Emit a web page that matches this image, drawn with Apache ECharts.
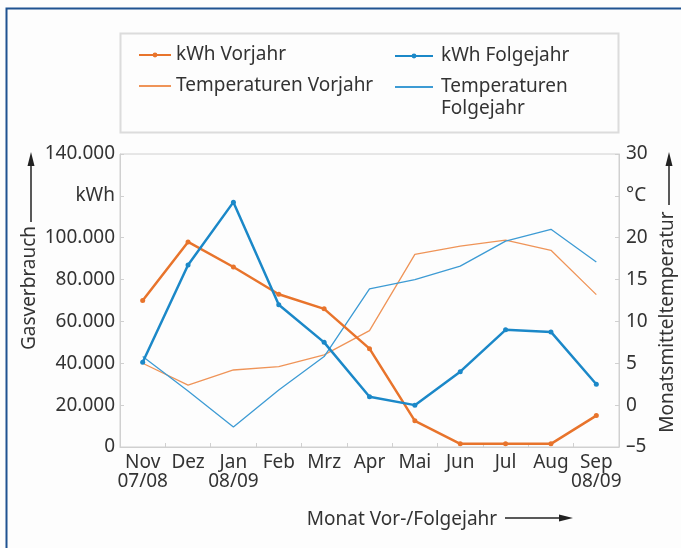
<!DOCTYPE html>
<html>
<head>
<meta charset="utf-8">
<script src="https://cdn.jsdelivr.net/npm/echarts@6/dist/echarts.min.js"></script>
<style>
  html, body { margin: 0; padding: 0; background: #fdfdfd; }
  #chart { width: 681px; height: 548px; }
</style>
</head>
<body>
<div id="chart"></div>
<script>
  // Monate (Vorjahr / Folgejahr)
  var months = ['Nov\n07/08', 'Dez', 'Jan\n08/09', 'Feb', 'Mrz', 'Apr', 'Mai', 'Jun', 'Jul', 'Aug', 'Sep\n08/09']
  // Gasverbrauch in kWh
  var kwhVorjahr = [70000, 98000, 86000, 73000, 66000, 47000, 12500, 1500, 1500, 1500, 15000]
  var kwhFolgejahr = [40500, 87000, 117000, 68000, 50000, 24000, 20000, 36000, 56000, 55000, 30000]
  // Monatsmitteltemperatur in °C
  var tempVorjahr = [5.0, 2.4, 4.2, 4.6, 6.0, 8.9, 18.0, 19.0, 19.7, 18.5, 13.2]
  var tempFolgejahr = [5.8, 1.7, -2.6, 1.8, 5.8, 13.9, 15.0, 16.6, 19.6, 21.0, 17.1]

  var orange = '#e8742c'
  var orangeLight = '#ef9458'
  var blue = '#1b88c8'
  var blueLight = '#3d9bd4'
  var font = 'Noto Sans'
  var fs = 19
  var textColor = '#333'

  var chart = echarts.init(document.getElementById('chart'))

  chart.setOption({
    backgroundColor: '#fdfdfd',
    textStyle: {fontFamily: font},
    grid: {
      left: 120, right: 62, top: 154, bottom: 101,
      show: true, borderColor: '#d0d0d0', borderWidth: 1
    },
    legend: [{
      left: 133, top: 40, orient: 'vertical', itemGap: 11,
      itemWidth: 32, itemHeight: 6,
      data: ['kWh Vorjahr', {name: 'Temperaturen Vorjahr', itemStyle: {opacity: 0}}],
      textStyle: {fontSize: fs, lineHeight: 20, color: textColor, fontFamily: font}
    }, {
      left: 389, top: 41, orient: 'vertical', itemGap: 11,
      itemWidth: 38, itemHeight: 6,
      data: ['kWh Folgejahr', {name: 'Temperaturen Folgejahr', itemStyle: {opacity: 0}}],
      formatter: function (name) {
        // zweite Zeile kommt als eigener Text darunter
        return name === 'Temperaturen Folgejahr' ? 'Temperaturen' : name
      },
      textStyle: {fontSize: fs, lineHeight: 20, color: textColor, fontFamily: font, padding: [0, 0, 0, 3]}
    }],
    xAxis: {
      type: 'category',
      data: months,
      boundaryGap: true,
      axisLine: {lineStyle: {color: '#d0d0d0'}},
      axisTick: {show: true, inside: true, length: 4, lineStyle: {color: '#d0d0d0'}},
      axisLabel: {color: textColor, fontSize: fs, margin: 6, lineHeight: 19, interval: 0}
    },
    yAxis: [{
      type: 'value',
      min: 0, max: 140000, interval: 20000,
      splitLine: {show: false},
      axisLine: {show: true, lineStyle: {color: '#d0d0d0'}},
      axisTick: {show: true, inside: true, length: 4, lineStyle: {color: '#d0d0d0'}},
      axisLabel: {
        color: textColor, fontSize: fs, margin: 5,
        formatter: function (v) {
          if (v === 120000) return 'kWh'
          if (v === 0) return '0'
          return (v / 1000) + '.000'
        }
      }
    }, {
      type: 'value',
      min: -5, max: 30, interval: 5,
      splitLine: {show: false},
      axisLine: {show: true, lineStyle: {color: '#d0d0d0'}},
      axisTick: {show: true, inside: true, length: 4, lineStyle: {color: '#d0d0d0'}},
      axisLabel: {
        color: textColor, fontSize: fs, margin: 7,
        formatter: function (v) {
          if (v === 25) return '°C'
          if (v < 0) return '\u2013' + Math.abs(v)
          return '' + v
        }
      }
    }],
    graphic: [
      // blauer Rahmen
      {type: 'rect', shape: {x: 6.5, y: 8.5, width: 700, height: 600},
        style: {fill: 'none', stroke: '#1f5391', lineWidth: 2}, silent: true},
      // Legendenkasten
      {type: 'rect', shape: {x: 120.5, y: 33.5, width: 498, height: 99},
        style: {fill: 'none', stroke: '#dcdcdc', lineWidth: 2}, z: -1, silent: true},
      {type: 'text', x: 441, y: 109,
        style: {text: 'Folgejahr', fontSize: fs, fill: textColor, fontFamily: font, verticalAlign: 'middle'}},
      // Achsentitel links
      {type: 'text', x: 30, y: 288, rotation: Math.PI / 2,
        style: {text: 'Gasverbrauch', fontSize: fs, fill: textColor, fontFamily: font,
          align: 'center', verticalAlign: 'middle'}},
      {type: 'line', shape: {x1: 31, y1: 222, x2: 31, y2: 165}, style: {stroke: '#222', lineWidth: 1.5}},
      {type: 'polygon', shape: {points: [[31, 152], [27.5, 166], [34.5, 166]]}, style: {fill: '#222'}},
      // Achsentitel rechts
      {type: 'text', x: 668, y: 322, rotation: Math.PI / 2,
        style: {text: 'Monatsmitteltemperatur', fontSize: fs, fill: textColor, fontFamily: font,
          align: 'center', verticalAlign: 'middle'}},
      {type: 'line', shape: {x1: 669, y1: 205, x2: 669, y2: 165}, style: {stroke: '#222', lineWidth: 1.5}},
      {type: 'polygon', shape: {points: [[669, 152], [665.5, 166], [672.5, 166]]}, style: {fill: '#222'}},
      // Achsentitel unten
      {type: 'text', x: 402, y: 520,
        style: {text: 'Monat Vor-/Folgejahr', fontSize: fs, fill: textColor, fontFamily: font,
          align: 'center', verticalAlign: 'middle'}},
      {type: 'line', shape: {x1: 505, y1: 518, x2: 560, y2: 518}, style: {stroke: '#222', lineWidth: 1.5}},
      {type: 'polygon', shape: {points: [[573, 518], [559, 514.5], [559, 521.5]]}, style: {fill: '#222'}}
    ],
    series: [{
      name: 'kWh Vorjahr', type: 'line', yAxisIndex: 0, data: kwhVorjahr,
      symbol: 'circle', symbolSize: 5, color: orange,
      lineStyle: {width: 2.5, color: orange}, itemStyle: {color: orange}, z: 4
    }, {
      name: 'Temperaturen Vorjahr', type: 'line', yAxisIndex: 1, data: tempVorjahr,
      symbol: 'none', color: orangeLight,
      lineStyle: {width: 1.3, color: orangeLight}, z: 2
    }, {
      name: 'kWh Folgejahr', type: 'line', yAxisIndex: 0, data: kwhFolgejahr,
      symbol: 'circle', symbolSize: 5, color: blue,
      lineStyle: {width: 2.5, color: blue}, itemStyle: {color: blue}, z: 5
    }, {
      name: 'Temperaturen Folgejahr', type: 'line', yAxisIndex: 1, data: tempFolgejahr,
      symbol: 'none', color: blueLight,
      lineStyle: {width: 1.3, color: blueLight}, z: 3
    }]
  })
</script>
</body>
</html>
